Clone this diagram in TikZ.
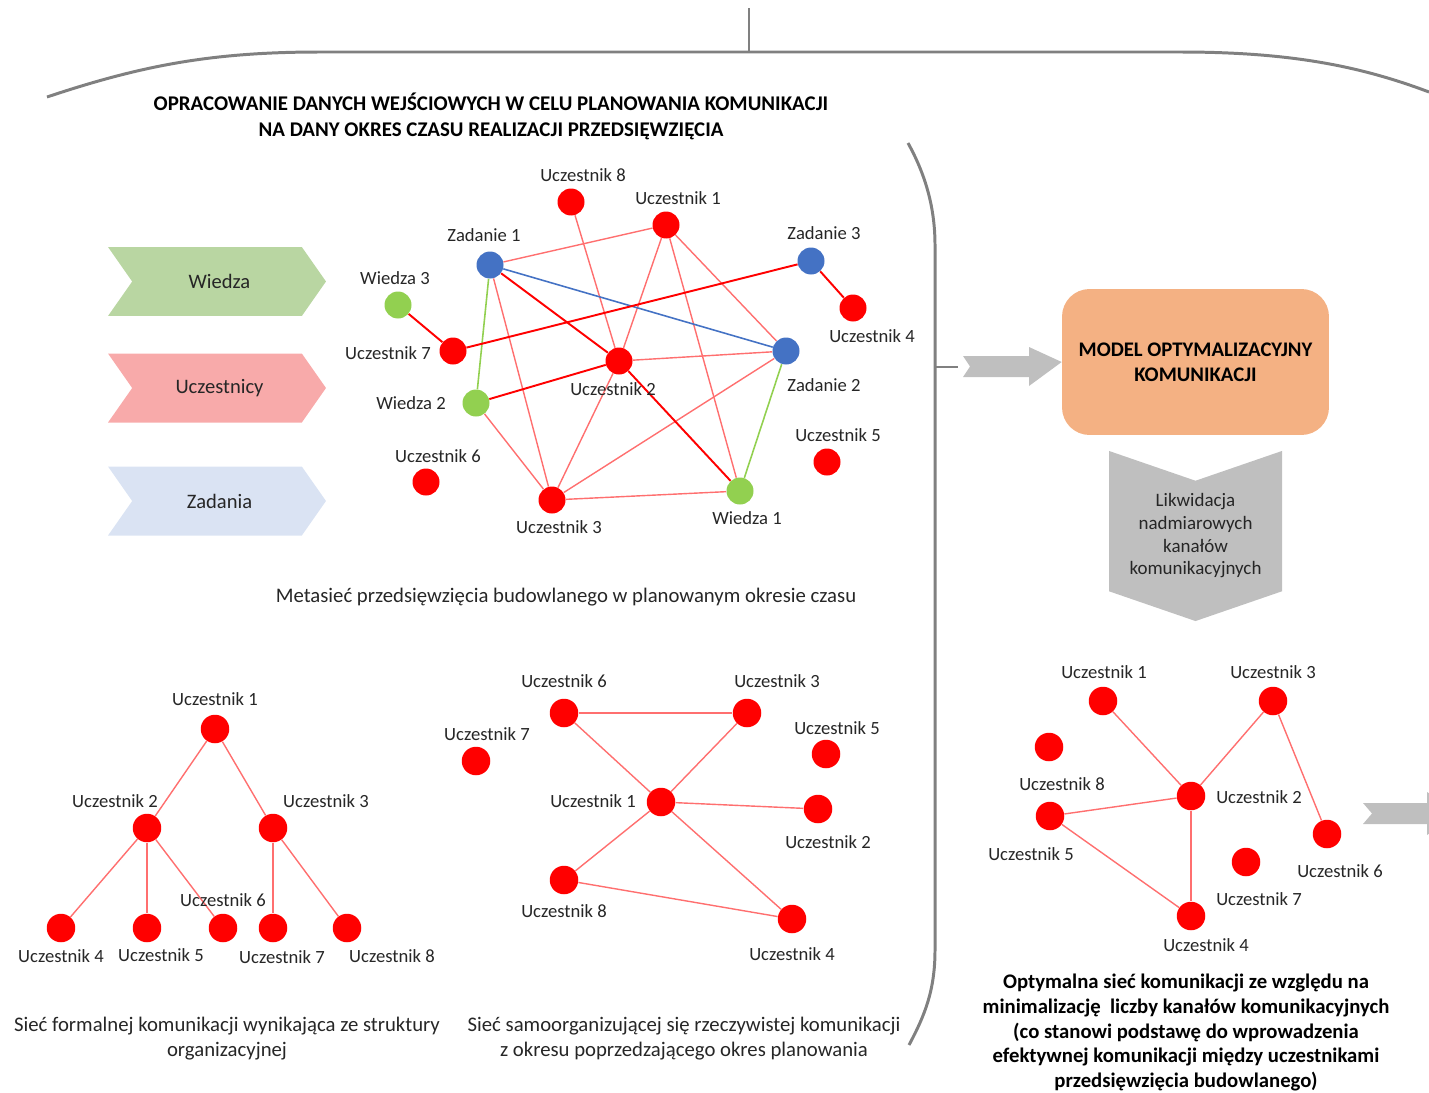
\documentclass[tikz,border=0pt]{standalone}
\usepackage{fontspec}
\setmainfont{Carlito}
\usetikzlibrary{positioning, shapes.symbols, calc}
\definecolor{kmRed}{HTML}{FF0000}
\definecolor{kmEdge}{HTML}{FF6F6F}
\definecolor{kmBlue}{HTML}{4472C4}
\definecolor{kmGreen}{HTML}{92D050}
\definecolor{kmFrame}{HTML}{808080}
\definecolor{kmGrey}{HTML}{BFBFBF}
\definecolor{kmOrange}{HTML}{F4B183}
\definecolor{kmWiedza}{HTML}{B9D6A2}
\definecolor{kmUcz}{HTML}{F8AAAA}
\definecolor{kmZad}{HTML}{DAE3F3}
\definecolor{kmText}{HTML}{262626}
\tikzset{
    kmDot/.style={
        circle,
        minimum size=0.54cm,
        inner sep=0pt,
        draw=none
    },
    % Node kinds
    ucz/.style={kmDot, fill=kmRed},
    zad/.style={kmDot, fill=kmBlue},
    wie/.style={kmDot, fill=kmGreen},
    bigucz/.style={ucz, minimum size=0.57cm},
    kmLabel/.style={
        font=\fontsize{10.6}{12}\selectfont,
        text=kmText,
        inner sep=0pt
    },
    kmCaption/.style={
        font=\fontsize{11.8}{14.2}\selectfont,
        text=kmText,
        align=center,
        inner sep=0pt
    },
    kmBold/.style={
        font=\bfseries\fontsize{11.8}{14}\selectfont,
        text=black,
        align=center,
        inner sep=0pt
    },
    kmChevron/.style={
        signal,
        signal to=east,
        signal from=west,
        signal pointer angle=110,
        minimum width=4.36cm,
        minimum height=1.38cm,
        inner sep=0pt,
        draw=none,
        font=\fontsize{11.7}{13}\selectfont,
        text=kmText
    },
    % Connectors
    weak/.style={draw=kmEdge, line width=0.8pt},
    strong/.style={draw=kmRed, line width=1.1pt},
    taskline/.style={draw=kmBlue, line width=0.9pt},
    knowline/.style={draw=kmGreen, line width=0.9pt},
    frame/.style={draw=kmFrame, line width=1.7pt}
}

\begin{document}
\begin{tikzpicture}[x=0.02cm, y=-0.02cm]
    \useasboundingbox (0,0) rectangle (1429,1092);

    % frame
    \draw[frame] (47,97) .. controls (140,66) and (210,52) .. (320,52) -- (1180,52)
        .. controls (1290,52) and (1360,66) .. (1429,92);
    \draw[frame, line width=1.3pt] (749,8) -- (749,52);
    \draw[frame] (908,143) .. controls (924,172) and (935,205) .. (935,245) -- (935,950)
        .. controls (935,990) and (925,1015) .. (909,1045);
    \coordinate (tick) at (935,367);

    \node[kmBold, font=\bfseries\fontsize{11.9}{14.7}\selectfont] (title) at (491,116)
        {OPRACOWANIE DANYCH WEJŚCIOWYCH W CELU PLANOWANIA KOMUNIKACJI\\NA DANY OKRES CZASU REALIZACJI PRZEDSIĘWZIĘCIA};

    % legend
    \node[kmChevron, fill=kmWiedza] (wiedza) at (217,281.5) {\hspace*{0.1cm}Wiedza};
    \node[kmChevron, fill=kmUcz] (uczestnicy) at (217,388) {\hspace*{0.1cm}Uczestnicy};
    \node[kmChevron, fill=kmZad] (zadania) at (217,501) {\hspace*{0.1cm}Zadania};

    % metasiec
    \node[ucz] (m-u8) at (571,202) {};
    \node[ucz] (m-u1) at (666,225) {};
    \node[zad] (m-z1) at (490,265) {};
    \node[zad] (m-z3) at (811,261) {};
    \node[ucz] (m-u4) at (853,308) {};
    \node[wie] (m-w3) at (398,305) {};
    \node[ucz] (m-u7) at (453,351) {};
    \node[zad] (m-z2) at (786,351) {};
    \node[ucz] (m-u2) at (619,361) {};
    \node[wie] (m-w2) at (476,403) {};
    \node[ucz] (m-u6) at (426,482) {};
    \node[ucz] (m-u5) at (827,462) {};
    \node[ucz] (m-u3) at (552,500) {};
    \node[wie] (m-w1) at (740,491) {};

    \draw[weak] (m-z1) -- (m-u1);
    \draw[weak] (m-u8) -- (m-u2);
    \draw[weak] (m-u1) -- (m-u2);
    \draw[weak] (m-u1) -- (m-z2);
    \draw[weak] (m-u1) -- (m-w1);
    \draw[weak] (m-u2) -- (m-z2);
    \draw[weak] (m-z1) -- (m-u3);
    \draw[weak] (m-w2) -- (m-u3);
    \draw[weak] (m-u2) -- (m-u3);
    \draw[weak] (m-u3) -- (m-z2);
    \draw[weak] (m-u3) -- (m-w1);
    \draw[taskline] (m-z1) -- (m-z2);
    \draw[knowline] (m-z1) -- (m-w2);
    \draw[knowline] (m-z2) -- (m-w1);
    \draw[strong] (m-w3) -- (m-u7);
    \draw[strong] (m-u7) -- (m-z3);
    \draw[strong] (m-z3) -- (m-u4);
    \draw[strong] (m-z1) -- (m-u2);
    \draw[strong] (m-u2) -- (m-w1);
    \draw[strong] (m-w2) -- (m-u2);

    \node[kmLabel] (m-u8-l) at (583,175) {Uczestnik 8};
    \node[kmLabel] (m-u1-l) at (678,198) {Uczestnik 1};
    \node[kmLabel] (m-z1-l) at (484,235) {Zadanie 1};
    \node[kmLabel] (m-z3-l) at (824,233) {Zadanie 3};
    \node[kmLabel] (m-u4-l) at (872,336) {Uczestnik 4};
    \node[kmLabel] (m-w3-l) at (395,278) {Wiedza 3};
    \node[kmLabel] (m-u7-l) at (388,353) {Uczestnik 7};
    \node[kmLabel] (m-z2-l) at (824,385) {Zadanie 2};
    \node[kmLabel] (m-u2-l) at (613,389) {Uczestnik 2};
    \node[kmLabel] (m-w2-l) at (411,403) {Wiedza 2};
    \node[kmLabel] (m-u6-l) at (438,456) {Uczestnik 6};
    \node[kmLabel] (m-u5-l) at (838,435) {Uczestnik 5};
    \node[kmLabel] (m-u3-l) at (559,527) {Uczestnik 3};
    \node[kmLabel] (m-w1-l) at (747,518) {Wiedza 1};

    \node[kmCaption] (meta-cap) at (566,597) {Metasieć przedsięwzięcia budowlanego w planowanym okresie czasu};

    % formalna
    \node[bigucz] (f-u1) at (215,729) {};
    \node[bigucz] (f-u2) at (147,828) {};
    \node[bigucz] (f-u3) at (273,828) {};
    \node[bigucz] (f-u4) at (61,928) {};
    \node[bigucz] (f-u5) at (147,928) {};
    \node[bigucz] (f-u6) at (223,928) {};
    \node[bigucz] (f-u7) at (273,928) {};
    \node[bigucz] (f-u8) at (347,928) {};
    \draw[weak] (f-u1) -- (f-u2);
    \draw[weak] (f-u1) -- (f-u3);
    \draw[weak] (f-u2) -- (f-u4);
    \draw[weak] (f-u2) -- (f-u5);
    \draw[weak] (f-u2) -- (f-u6);
    \draw[weak] (f-u3) -- (f-u7);
    \draw[weak] (f-u3) -- (f-u8);
    \node[kmLabel] (f-u1-l) at (215,699) {Uczestnik 1};
    \node[kmLabel] (f-u2-l) at (115,801) {Uczestnik 2};
    \node[kmLabel] (f-u3-l) at (326,801) {Uczestnik 3};
    \node[kmLabel] (f-u4-l) at (61,956) {Uczestnik 4};
    \node[kmLabel] (f-u5-l) at (161,955) {Uczestnik 5};
    \node[kmLabel] (f-u6-l) at (223,900) {Uczestnik 6};
    \node[kmLabel] (f-u7-l) at (282,957) {Uczestnik 7};
    \node[kmLabel] (f-u8-l) at (392,956) {Uczestnik 8};
    \node[kmCaption] (form-cap) at (227,1039) {Sieć formalnej komunikacji wynikająca ze struktury\\organizacyjnej};

    % samoorganizujaca
    \node[bigucz] (s-u6) at (564,713) {};
    \node[bigucz] (s-u3) at (747,713) {};
    \node[bigucz] (s-u7) at (476,761) {};
    \node[bigucz] (s-u5) at (826,754) {};
    \node[bigucz] (s-u1) at (661,802) {};
    \node[bigucz] (s-u2) at (818,809) {};
    \node[bigucz] (s-u8) at (564,880) {};
    \node[bigucz] (s-u4) at (792,919) {};
    \draw[weak] (s-u6) -- (s-u3);
    \draw[weak] (s-u6) -- (s-u1);
    \draw[weak] (s-u3) -- (s-u1);
    \draw[weak] (s-u1) -- (s-u2);
    \draw[weak] (s-u1) -- (s-u8);
    \draw[weak] (s-u1) -- (s-u4);
    \draw[weak] (s-u8) -- (s-u4);
    \node[kmLabel] (s-u6-l) at (564,681) {Uczestnik 6};
    \node[kmLabel] (s-u3-l) at (777,681) {Uczestnik 3};
    \node[kmLabel] (s-u7-l) at (487,734) {Uczestnik 7};
    \node[kmLabel] (s-u5-l) at (837,728) {Uczestnik 5};
    \node[kmLabel] (s-u1-l) at (593,801) {Uczestnik 1};
    \node[kmLabel] (s-u2-l) at (828,842) {Uczestnik 2};
    \node[kmLabel] (s-u8-l) at (564,911) {Uczestnik 8};
    \node[kmLabel] (s-u4-l) at (792,954) {Uczestnik 4};
    \node[kmCaption] (samo-cap) at (684,1039) {Sieć samoorganizującej się rzeczywistej komunikacji\\z okresu poprzedzającego okres planowania};

    % model
    \node[kmBold, fill=kmOrange, rounded corners=0.55cm, minimum width=5.34cm, minimum height=2.92cm,
        font=\bfseries\fontsize{11.8}{14.2}\selectfont] (model) at (1195.5,362)
        {MODEL OPTYMALIZACYJNY\\KOMUNIKACJI};
    \fill[kmGrey] (963,356) -- (1029,356) -- (1029,347) -- (model.west) -- (1029,386)
        -- (1029,377) -- (963,377) -- (970,366.5) -- cycle;
    \draw[frame, line width=1.3pt] (tick) -- (958,367);

    \node[signal, signal to=south, signal from=north, signal pointer angle=142,
        fill=kmGrey, minimum width=3.46cm, minimum height=3.12cm, inner sep=0pt,
        font=\fontsize{10.8}{12.9}\selectfont, text=kmText, align=center] (likw) at (1195.5,536)
        {Likwidacja\\nadmiarowych\\kanałów\\komunikacyjnych};

    % optymalna
    \node[bigucz] (o-u1) at (1103,701) {};
    \node[bigucz] (o-u3) at (1273,701) {};
    \node[bigucz] (o-u8) at (1049,747) {};
    \node[bigucz] (o-u2) at (1191,796) {};
    \node[bigucz] (o-u5) at (1050,816) {};
    \node[bigucz] (o-u6) at (1327,834) {};
    \node[bigucz] (o-u7) at (1246,862) {};
    \node[bigucz] (o-u4) at (1191,916) {};
    \draw[weak] (o-u1) -- (o-u2);
    \draw[weak] (o-u3) -- (o-u2);
    \draw[weak] (o-u3) -- (o-u6);
    \draw[weak] (o-u5) -- (o-u2);
    \draw[weak] (o-u5) -- (o-u4);
    \draw[weak] (o-u2) -- (o-u4);
    \node[kmLabel] (o-u1-l) at (1104,672) {Uczestnik 1};
    \node[kmLabel] (o-u3-l) at (1273,672) {Uczestnik 3};
    \node[kmLabel] (o-u8-l) at (1062,784) {Uczestnik 8};
    \node[kmLabel] (o-u2-l) at (1259,797) {Uczestnik 2};
    \node[kmLabel] (o-u5-l) at (1031,854) {Uczestnik 5};
    \node[kmLabel] (o-u6-l) at (1340,871) {Uczestnik 6};
    \node[kmLabel] (o-u7-l) at (1259,899) {Uczestnik 7};
    \node[kmLabel] (o-u4-l) at (1206,945) {Uczestnik 4};
    \node[kmBold, font=\bfseries\fontsize{11.8}{14.1}\selectfont] (opt-cap) at (1186,1032.5)
        {Optymalna sieć komunikacji ze względu na\\minimalizację\ \ liczby kanałów komunikacyjnych\\(co stanowi podstawę do wprowadzenia\\efektywnej komunikacji między uczestnikami\\przedsięwzięcia budowlanego)};

    % outgoing arrow
    \fill[kmGrey] (1363,803) -- (1427,803) -- (1427,792) -- (1460,813.5) -- (1427,835)
        -- (1427,824) -- (1363,824) -- (1372,813.5) -- cycle;
\end{tikzpicture}
\end{document}
